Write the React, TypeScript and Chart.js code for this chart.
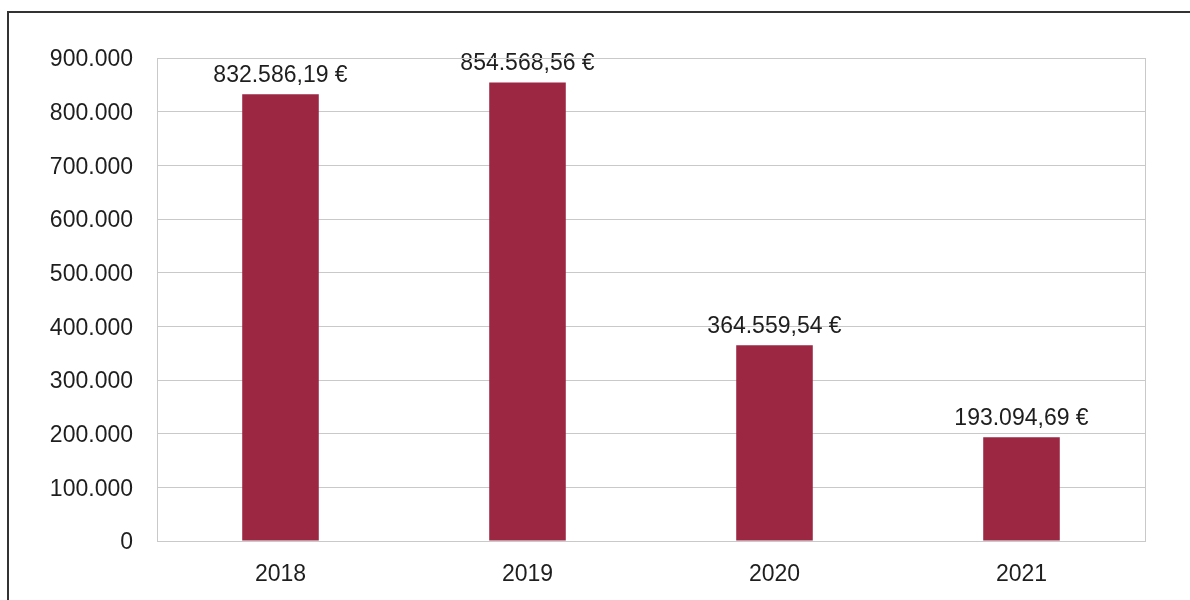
import React, { useEffect, useRef } from "react";
import { Chart, registerables } from "chart.js";

Chart.register(...registerables);

const categories = ["2018", "2019", "2020", "2021"];
const values = [832586.19, 854568.56, 364559.54, 193094.69];
const yTicks = [0, 100000, 200000, 300000, 400000, 500000, 600000, 700000, 800000, 900000];

const FONT = "'Liberation Sans', Arial, Helvetica, sans-serif";
const TEXT = "#1e1e1e";
const GRID = "#c9c9c9";
const BAR = "#9b2743";

function groupThousands(intStr: string): string {
  return intStr.replace(/\B(?=(\d{3})+(?!\d))/g, ".");
}

function formatEuro(v: number): string {
  const fixed = v.toFixed(2);
  const [i, d] = fixed.split(".");
  return groupThousands(i) + "," + d + " €";
}

const plotBox = {
  id: "plotBox",
  afterDraw(chart: any) {
    const { ctx, chartArea } = chart;
    ctx.save();
    ctx.strokeStyle = GRID;
    ctx.lineWidth = 1;
    ctx.strokeRect(
      Math.round(chartArea.left) + 0.5,
      Math.round(chartArea.top) + 0.5,
      Math.round(chartArea.right - chartArea.left),
      Math.round(chartArea.bottom - chartArea.top)
    );
    ctx.restore();
  },
};

const valueLabels = {
  id: "valueLabels",
  afterDatasetsDraw(chart: any) {
    const { ctx } = chart;
    const meta = chart.getDatasetMeta(0);
    ctx.save();
    ctx.font = "23px " + FONT;
    ctx.fillStyle = TEXT;
    ctx.textAlign = "center";
    ctx.textBaseline = "alphabetic";
    meta.data.forEach((bar: any, i: number) => {
      ctx.fillText(formatEuro(values[i]), bar.x, bar.y - 12);
    });
    ctx.restore();
  },
};

export default function App() {
  const ref = useRef<HTMLCanvasElement | null>(null);

  useEffect(() => {
    if (!ref.current) return;
    const chart = new Chart(ref.current, {
      type: "bar",
      data: {
        labels: categories,
        datasets: [
          {
            data: values,
            backgroundColor: BAR,
            borderWidth: 0,
            barPercentage: 0.62,
            categoryPercentage: 0.5,
          },
        ],
      },
      options: {
        animation: false,
        responsive: false,
        devicePixelRatio: 1,
        layout: { padding: { left: 0, top: 58, right: 45, bottom: 0 } },
        plugins: {
          legend: { display: false },
          tooltip: { enabled: false },
          title: { display: false },
        },
        scales: {
          x: {
            grid: { display: false, drawTicks: false },
            border: { display: false },
            ticks: {
              color: TEXT,
              font: { family: FONT, size: 23 },
              padding: 20,
            },
            afterFit(scale: any) {
              scale.height = 59;
            },
          },
          y: {
            min: 0,
            max: 900000,
            afterBuildTicks(scale: any) {
              scale.ticks = yTicks.map((v) => ({ value: v }));
            },
            grid: { color: GRID, lineWidth: 1, drawTicks: false },
            border: { display: false },
            ticks: {
              color: TEXT,
              font: { family: FONT, size: 23 },
              padding: 24,
              labelOffset: 2,
              callback: (v: any) => groupThousands(String(v)),
            },
            afterFit(scale: any) {
              scale.width = 157;
            },
          },
        },
      },
      plugins: [plotBox, valueLabels],
    });
    return () => chart.destroy();
  }, []);

  return (
    <div>
      <div
        style={{
          position: "fixed",
          left: 7,
          top: 11,
          width: 1300,
          height: 700,
          borderLeft: "2px solid #333",
          borderTop: "2px solid #333",
          boxSizing: "border-box",
        }}
      />
      <canvas
        ref={ref}
        width={1190}
        height={600}
        style={{ position: "fixed", left: 0, top: 0, width: 1190, height: 600 }}
      />
    </div>
  );
}
